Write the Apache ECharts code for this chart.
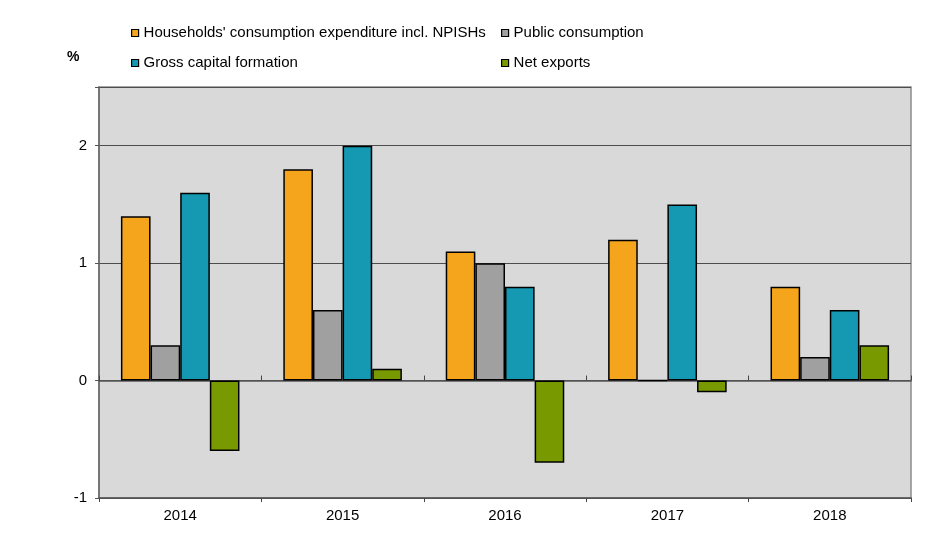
<!DOCTYPE html>
<html>
<head>
<meta charset="utf-8">
<script src="https://cdn.jsdelivr.net/npm/echarts@6/dist/echarts.min.js"></script>
<style>
  html, body { margin: 0; padding: 0; background: #fff; }
  #chart { width: 952px; height: 533px; }
</style>
</head>
<body>
<div id="chart"></div>
<script>
// Contributions to GDP growth by component, percentage points
const years = ['2014', '2015', '2016', '2017', '2018'];
const households = [1.4, 1.8, 1.1, 1.2, 0.8];
const publicConsumption = [0.3, 0.6, 1.0, 0, 0.2];
const grossCapital = [1.6, 2.0, 0.8, 1.5, 0.6];
const netExports = [-0.6, 0.1, -0.7, -0.1, 0.3];
const yTicks = [-1, 0, 1, 2];

const names = [
  "Households' consumption expenditure incl. NPISHs",
  'Public consumption',
  'Gross capital formation',
  'Net exports'
];
const colors = ['#f5a51c', '#a0a0a0', '#1598b1', '#789a00'];
const values = [households, publicConsumption, grossCapital, netExports];

const font = "'Liberation Sans', Arial, sans-serif";
const fs = 15;

const chart = echarts.init(document.getElementById('chart'), null, { renderer: 'canvas' });

const legendCommon = {
  orient: 'vertical',
  top: 25,
  padding: 0,
  itemGap: 14,
  itemWidth: 7,
  itemHeight: 7,
  icon: 'rect',
  itemStyle: { borderColor: '#000', borderWidth: 1.2 },
  textStyle: { fontFamily: font, fontSize: fs, lineHeight: 16, color: '#000' },
  selectedMode: false
};

chart.setOption({
  animation: false,
  backgroundColor: '#fff',
  graphic: [{
    type: 'text',
    left: 67,
    top: 50,
    style: { text: '%', font: "bold 14px 'Liberation Sans', Arial, sans-serif", fill: '#000' }
  }],
  legend: [
    Object.assign({ left: 131, data: [names[0], names[2]] }, legendCommon),
    Object.assign({ left: 501, data: [names[1], names[3]] }, legendCommon)
  ],
  grid: {
    left: 99, right: 41, top: 87, bottom: 35,
    show: true,
    backgroundColor: '#d9d9d9',
    borderColor: '#8c8c8c',
    borderWidth: 1.5
  },
  xAxis: [
    {
      // category labels along the bottom edge
      type: 'category',
      data: years,
      position: 'bottom',
      axisLine: { show: false, onZero: false },
      axisTick: { show: false },
      axisLabel: { fontFamily: font, fontSize: fs, color: '#000', margin: 10 }
    },
    {
      // zero line with ticks above it
      type: 'category',
      data: years,
      position: 'bottom',
      axisLine: { onZero: true, lineStyle: { color: '#555', width: 1.5 } },
      axisTick: { show: true, inside: true, length: 5, lineStyle: { color: '#444' } },
      axisLabel: { show: false }
    },
    {
      // zero line ticks below it
      type: 'category',
      data: years,
      position: 'bottom',
      axisLine: { onZero: true, lineStyle: { color: '#555', width: 1.5 } },
      axisTick: { show: true, inside: false, length: 4, lineStyle: { color: '#444' } },
      axisLabel: { show: false }
    }
  ],
  yAxis: {
    type: 'value',
    min: -1,
    max: 2.5,
    interval: 1,
    axisLine: { show: true, lineStyle: { color: '#666', width: 1.5 } },
    axisTick: { show: true, length: 4, lineStyle: { color: '#555' } },
    axisLabel: {
      fontFamily: font, fontSize: fs, color: '#000', margin: 12,
      formatter: v => (yTicks.indexOf(v) >= 0 ? String(v) : '')
    },
    splitLine: { show: true, lineStyle: { color: '#4d4d4d', width: 1.2 } }
  },
  series: names.map((n, i) => ({
    name: n,
    type: 'bar',
    xAxisIndex: 0,
    data: values[i],
    barGap: '0%',
    barCategoryGap: '27%',
    itemStyle: { color: colors[i], borderColor: '#000', borderWidth: 1.5 }
  }))
});
</script>
</body>
</html>
